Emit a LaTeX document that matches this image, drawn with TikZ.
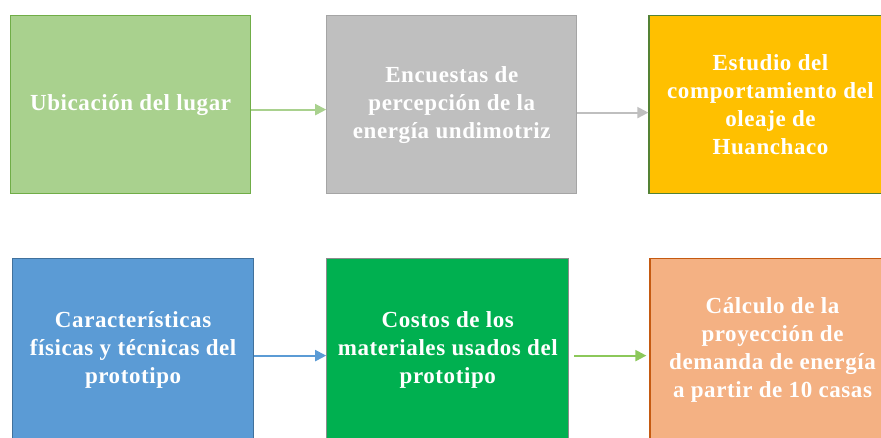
\documentclass[tikz,border=0pt]{standalone}
\usepackage{fontspec}
\setmainfont{Liberation Serif}
\newfontfamily\boxfont[LetterSpace=2.5]{Liberation Serif}
\usetikzlibrary{arrows.meta, positioning}
\definecolor{clrGreen}{HTML}{A9D18E}
\definecolor{clrGreenDark}{HTML}{70AD47}
\definecolor{clrGray}{HTML}{BFBFBF}
\definecolor{clrGrayDark}{HTML}{A5A5A5}
\definecolor{clrGold}{HTML}{FFC000}
\definecolor{clrGoldEdge}{HTML}{548235}
\definecolor{clrBlue}{HTML}{5B9BD5}
\definecolor{clrBlueDark}{HTML}{41719C}
\definecolor{clrLeaf}{HTML}{00B050}
\definecolor{clrLeafEdge}{HTML}{8C8C8C}
\definecolor{clrPeach}{HTML}{F4B183}
\definecolor{clrPeachDark}{HTML}{C55A11}
\definecolor{clrLime}{HTML}{8CC85A}
\tikzset{
  stage box/.style={rectangle, line width=1.2pt, minimum height=178pt, text=white, align=center,
    font=\boxfont\fontsize{23}{28}\selectfont\bfseries, inner sep=0pt},
  stage green/.style={stage box, fill=clrGreen, draw=clrGreenDark},
  stage gray/.style={stage box, fill=clrGray, draw=clrGrayDark},
  stage gold/.style={stage box, fill=clrGold, draw=clrGoldEdge},
  stage blue/.style={stage box, fill=clrBlue, draw=clrBlueDark},
  stage leaf/.style={stage box, fill=clrLeaf, draw=clrLeafEdge},
  stage peach/.style={stage box, fill=clrPeach, draw=clrPeachDark},
  arr/.style={-{Triangle[length=11pt, width=11pt]}, line width=2pt},
}
\begin{document}
\begin{tikzpicture}[x=1pt, y=-1pt]
  \useasboundingbox (0,0) rectangle (881,437);
  % Top row
  \node[stage green, minimum width=240pt, anchor=north west] (UBIC) at (10,15) {Ubicación del lugar};
  \node[stage gray, minimum width=250pt, right=75pt of UBIC] (ENCU) {Encuestas de\\percepción de la\\energía undimotriz};
  \node[stage gold, minimum width=243pt, right=71pt of ENCU] (OLEA) {Estudio del\\comportamiento del\\oleaje de\\Huanchaco};

  % Bottom row
  \node[stage blue, minimum width=241pt, minimum height=182pt, anchor=north west] (CARA) at (12,258) {Características\\físicas y técnicas del\\prototipo};
  \node[stage leaf, minimum width=242pt, minimum height=182pt, right=72pt of CARA] (COST) {Costos de los\\materiales usados del\\prototipo};
  \node[stage peach, minimum width=245pt, minimum height=182pt, right=80pt of COST] (DEMA) {Cálculo de la\\proyección de\\demanda de energía\\a partir de 10 casas};

  % Arrows
  \draw[arr, clrGreen] ([yshift=-5pt]UBIC.east) -- ([yshift=-5pt]ENCU.west);
  \draw[arr, clrGray] ([yshift=-8pt]ENCU.east) -- ([yshift=-8pt]OLEA.west);
  \draw[arr, clrBlue] ([yshift=-6pt]CARA.east) -- ([yshift=-6pt]COST.west);
  \draw[arr, clrLime] ([xshift=5pt, yshift=-6pt]COST.east) -- ([xshift=-3pt, yshift=-6pt]DEMA.west);
\end{tikzpicture}
\end{document}
